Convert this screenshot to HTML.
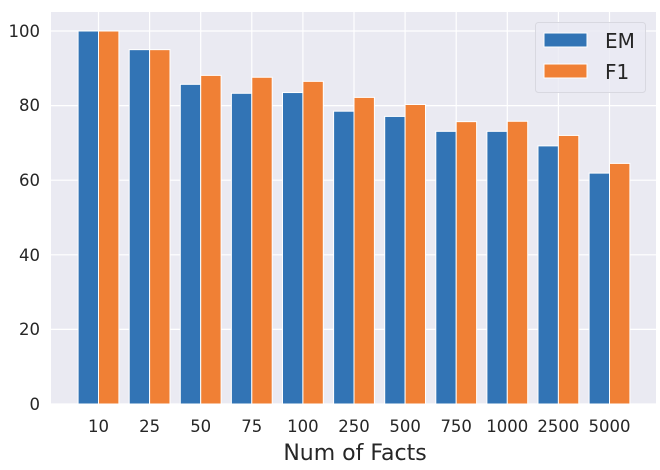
<!DOCTYPE html>
<html><head><style>body{margin:0;background:#fff}</style></head><body>
<svg width="660" height="465" xmlns="http://www.w3.org/2000/svg" font-family="DejaVu Sans, Liberation Sans, sans-serif" fill="#262626">
<rect x="51" y="12" width="605" height="392" fill="#eaeaf2"/>
<g stroke="#fff" stroke-width="1.2">
<line x1="51" x2="656" y1="404" y2="404"/><line x1="51" x2="656" y1="329.4" y2="329.4"/><line x1="51" x2="656" y1="254.8" y2="254.8"/><line x1="51" x2="656" y1="180.2" y2="180.2"/><line x1="51" x2="656" y1="105.6" y2="105.6"/><line x1="51" x2="656" y1="31" y2="31"/>
<g id="v"></g>
</g>
<g id="bars" stroke="#fff" stroke-width="1"></g>
<g font-size="16.5" text-anchor="end">
<text x="40" y="410">0</text><text x="40" y="335">20</text><text x="40" y="261">40</text><text x="40" y="186">60</text><text x="40" y="111">80</text><text x="40" y="37">100</text>
</g>
<g id="xl" font-size="16.5" text-anchor="middle"></g>
<text x="355" y="460" font-size="22" text-anchor="middle">Num of Facts</text>
<rect x="535.5" y="22.5" width="110" height="70" rx="3" fill="#eaeaf2" fill-opacity="0.8" stroke="#d8d8e0"/>
<rect x="544" y="33" width="43" height="14" fill="#3274b5" stroke="#fff"/>
<rect x="544" y="64" width="43" height="14" fill="#f08035" stroke="#fff"/>
<text x="605" y="48" font-size="20">EM</text>
<text x="605" y="79" font-size="20">F1</text>
<script>
var em=[100,95,85.7,83.3,83.5,78.5,77.1,73.1,73.1,69.2,61.9];
var f1=[100,95,88.1,87.6,86.5,82.2,80.3,75.7,75.8,72,64.5];
var lab=["10","25","50","75","100","250","500","750","1000","2500","5000"];
var ns="http://www.w3.org/2000/svg",v=document.getElementById("v"),b=document.getElementById("bars"),xl=document.getElementById("xl");
function el(p,t,a,tx){var e=document.createElementNS(ns,t);for(var k in a)e.setAttribute(k,a[k]);if(tx)e.textContent=tx;p.appendChild(e);}
for(var i=0;i<11;i++){var c=98.5+51.1*i;
el(v,"line",{x1:c,x2:c,y1:12,y2:404});
var h=em[i]*3.73;el(b,"rect",{x:c-20.4,y:404-h,width:20.4,height:h,fill:"#3274b5"});
h=f1[i]*3.73;el(b,"rect",{x:c,y:404-h,width:20.4,height:h,fill:"#f08035"});
el(xl,"text",{x:c,y:432},lab[i]);}
</script>
</svg>
</body></html>
